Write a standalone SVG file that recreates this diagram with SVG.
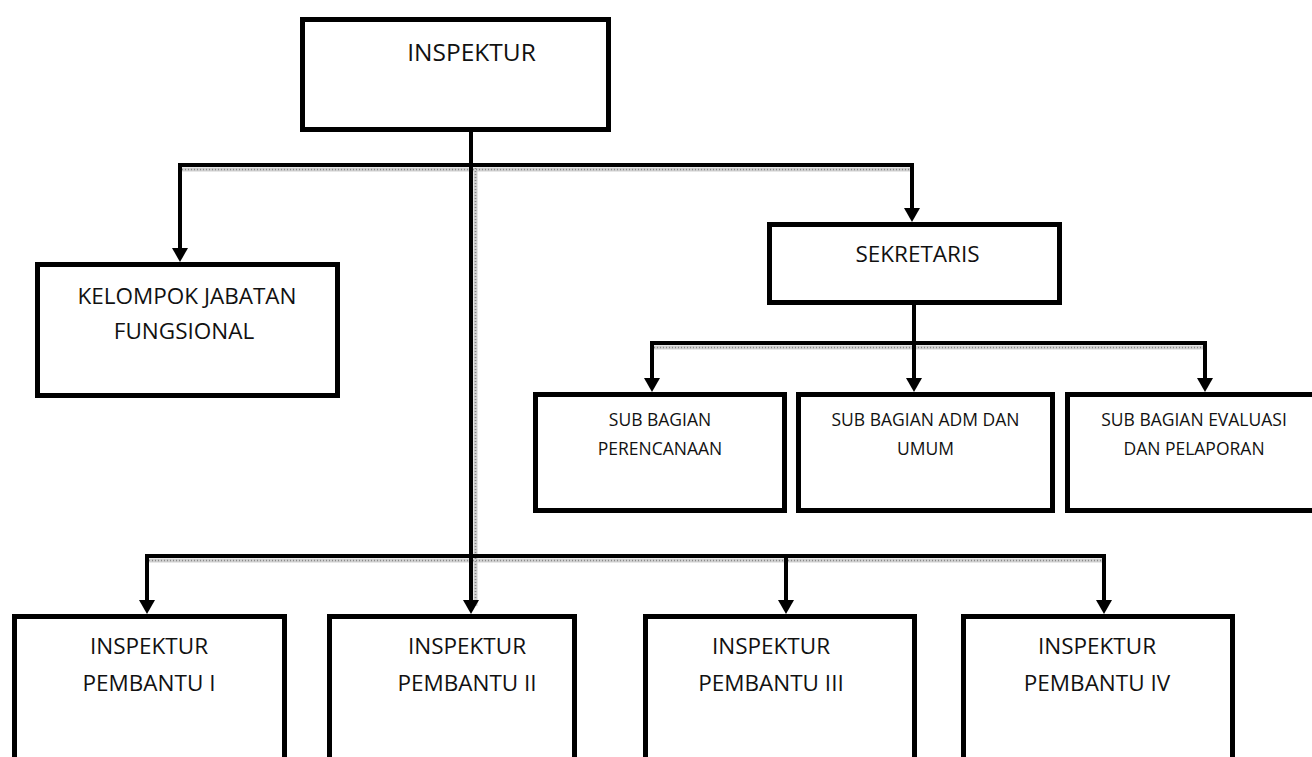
<svg xmlns="http://www.w3.org/2000/svg" width="1312" height="757" viewBox="0 0 1312 757">
  <style>
    .box { fill: #ffffff; stroke: #000000; stroke-width: 5; }
    .lbl { font-family: "Open Sans", "Liberation Sans", Arial, sans-serif; fill: #111111; text-anchor: middle; }
    .top { font-size: 24.5px; }
    .mid { font-size: 22.5px; }
    .sub { font-size: 17.5px; }
    .wire { fill: none; stroke: #000000; stroke-width: 4; }
    .drop { fill: none; stroke: #000000; stroke-width: 4; marker-end: url(#head); }
    .shade { fill: none; stroke: #cfcfcf; stroke-width: 4; }
    .shade-dots { fill: none; stroke: #8a8a8a; stroke-width: 1.6; stroke-dasharray: 1 2; }
  </style>
  <defs>
    <marker id="head" viewBox="0 0 14 16" refX="4" refY="8" markerWidth="14" markerHeight="16" markerUnits="userSpaceOnUse" orient="auto">
      <path d="M0,0 L14,8 L0,16 Z" fill="#000000"/>
    </marker>
  </defs>
  <rect width="1312" height="757" fill="#ffffff"/>

  <!-- connectors -->
  <g id="connectors">
    <!-- grey textured shadow bands under the bars -->
    <path class="shade" d="M182,169.5 H912 M654,347.5 H1205 M149,560.5 H1104 M475.5,168 V606"/>
    <path class="shade-dots" d="M182,169.5 H912 M654,347.5 H1205 M149,560.5 H1104 M475.5,168 V606"/>

    <!-- trunk from INSPEKTUR to the assistant inspectors -->
    <path class="drop" d="M471,131 V604"/>
    <!-- upper bar -->
    <path class="wire" d="M178,165 H914"/>
    <path class="drop" d="M180,163 V252"/>
    <path class="drop" d="M912,163 V212"/>
    <!-- secretary to sub-sections -->
    <path class="drop" d="M914,305 V382"/>
    <path class="wire" d="M650,343 H1207"/>
    <path class="drop" d="M652,341 V382"/>
    <path class="drop" d="M1205,341 V382"/>
    <!-- lower bar -->
    <path class="wire" d="M145,556 H1106"/>
    <path class="drop" d="M147,554 V604"/>
    <path class="drop" d="M786,554 V604"/>
    <path class="drop" d="M1104,554 V604"/>
  </g>

  <g id="inspektur">
    <rect class="box" x="302.5" y="19.5" width="306" height="110"/>
    <text class="lbl top" x="471.5" y="60.5">INSPEKTUR</text>
  </g>

  <g id="kelompok">
    <rect class="box" x="37.5" y="264.5" width="300" height="131"/>
    <text class="lbl mid" x="187" y="304">KELOMPOK JABATAN</text>
    <text class="lbl mid" x="184" y="339">FUNGSIONAL</text>
  </g>

  <g id="sekretaris">
    <rect class="box" x="769.5" y="224.5" width="290" height="78"/>
    <text class="lbl mid" x="917.5" y="262">SEKRETARIS</text>
  </g>

  <g id="sub-perencanaan">
    <rect class="box" x="535.5" y="394.5" width="249" height="116"/>
    <text class="lbl sub" x="660" y="426">SUB BAGIAN</text>
    <text class="lbl sub" x="660" y="455">PERENCANAAN</text>
  </g>

  <g id="sub-adm-umum">
    <rect class="box" x="798.5" y="394.5" width="254" height="116"/>
    <text class="lbl sub" x="925.5" y="426">SUB BAGIAN ADM DAN</text>
    <text class="lbl sub" x="925.5" y="455">UMUM</text>
  </g>

  <g id="sub-evaluasi">
    <rect class="box" x="1067.5" y="394.5" width="255" height="116"/>
    <text class="lbl sub" x="1194" y="426">SUB BAGIAN EVALUASI</text>
    <text class="lbl sub" x="1194" y="455">DAN PELAPORAN</text>
  </g>

  <g id="pembantu-1">
    <rect class="box" x="14.5" y="616.5" width="270" height="170"/>
    <text class="lbl mid" x="149" y="654">INSPEKTUR</text>
    <text class="lbl mid" x="149" y="691">PEMBANTU I</text>
  </g>

  <g id="pembantu-2">
    <rect class="box" x="329.5" y="616.5" width="245" height="170"/>
    <text class="lbl mid" x="467" y="654">INSPEKTUR</text>
    <text class="lbl mid" x="467" y="691">PEMBANTU II</text>
  </g>

  <g id="pembantu-3">
    <rect class="box" x="645.5" y="616.5" width="269" height="170"/>
    <text class="lbl mid" x="771" y="654">INSPEKTUR</text>
    <text class="lbl mid" x="771" y="691">PEMBANTU III</text>
  </g>

  <g id="pembantu-4">
    <rect class="box" x="963.5" y="616.5" width="269" height="170"/>
    <text class="lbl mid" x="1097" y="654">INSPEKTUR</text>
    <text class="lbl mid" x="1097" y="691">PEMBANTU IV</text>
  </g>
</svg>
